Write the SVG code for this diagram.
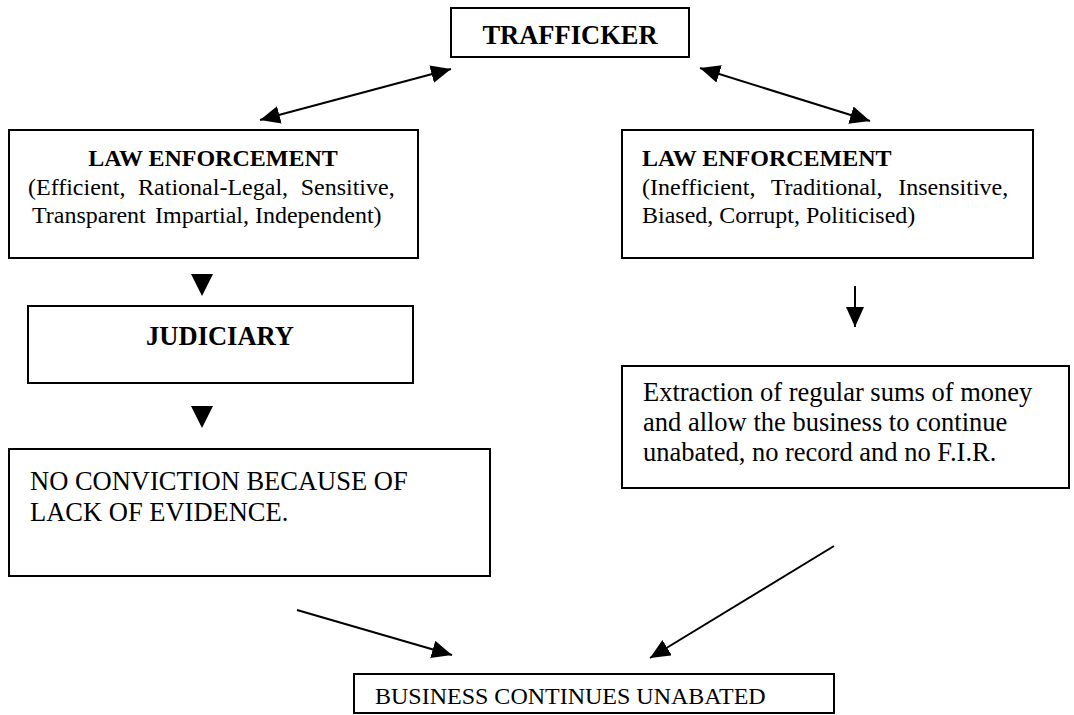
<svg xmlns="http://www.w3.org/2000/svg" width="1074" height="715" viewBox="0 0 1074 715">
<defs>
<style>
.box{fill:#fff;stroke:#000;stroke-width:2}
.t{font-family:"Liberation Serif","Times New Roman",serif;fill:#000}
.b{font-weight:bold}
.s24{font-size:24px}
.s26{font-size:26.5px}
.ln{stroke:#000;stroke-width:2;fill:none}
.tri{fill:#000}
</style>
<marker id="ah" markerUnits="userSpaceOnUse" viewBox="0 0 20 18" markerWidth="20" markerHeight="18" refX="20" refY="9" orient="auto-start-reverse">
<path d="M0,0 L20,9 L0,18 z" fill="#000"/>
</marker>
</defs>
<rect width="1074" height="715" fill="#fff"/>

<g id="trafficker">
<rect class="box" x="451" y="8" width="238" height="49"/>
<text class="t b" x="570" y="44" font-size="26.5" text-anchor="middle">TRAFFICKER</text>
</g>

<g id="law-left">
<rect class="box" x="9" y="130" width="409" height="128"/>
<text class="t b s24" x="213" y="166" text-anchor="middle">LAW ENFORCEMENT</text>
<text class="t s24" x="28" y="195" word-spacing="6.6">(Efficient, Rational-Legal, Sensitive,</text>
<text class="t s24" y="223"><tspan x="32">Transparent</tspan><tspan x="155">Impartial, Independent)</tspan></text>
</g>

<g id="law-right">
<rect class="box" x="622" y="130" width="411" height="128"/>
<text class="t b s24" x="642" y="166">LAW ENFORCEMENT</text>
<text class="t s24" x="642" y="195" word-spacing="9.7">(Inefficient, Traditional, Insensitive,</text>
<text class="t s24" x="642" y="223">Biased, Corrupt, Politicised)</text>
</g>

<g id="judiciary">
<rect class="box" x="28" y="306" width="385" height="77"/>
<text class="t b s26" x="220" y="345" text-anchor="middle">JUDICIARY</text>
</g>

<g id="no-conviction">
<rect class="box" x="9" y="449" width="481" height="127"/>
<text class="t s26" x="30" y="490">NO CONVICTION BECAUSE OF</text>
<text class="t s26" x="30" y="521">LACK OF EVIDENCE.</text>
</g>

<g id="extraction">
<rect class="box" x="622" y="366" width="447" height="122"/>
<text class="t s26" x="643" y="401">Extraction of regular sums of money</text>
<text class="t s26" x="643" y="431">and allow the business to continue</text>
<text class="t s26" x="643" y="461">unabated, no record and no F.I.R.</text>
</g>

<g id="business">
<rect class="box" x="354" y="674" width="480" height="39"/>
<text class="t s24" x="375" y="704">BUSINESS CONTINUES UNABATED</text>
</g>

<g id="connectors">
<line class="ln" x1="260" y1="120" x2="451" y2="69" marker-start="url(#ah)" marker-end="url(#ah)"/>
<line class="ln" x1="700" y1="68" x2="870" y2="121" marker-start="url(#ah)" marker-end="url(#ah)"/>
<polygon class="tri" points="191,274 213,274 202,296"/>
<polygon class="tri" points="191,406 213,406 202,428"/>
<line class="ln" x1="855" y1="286" x2="855" y2="327" marker-end="url(#ah)"/>
<line class="ln" x1="297" y1="610" x2="452" y2="655" marker-end="url(#ah)"/>
<line class="ln" x1="834" y1="546" x2="650" y2="658" marker-end="url(#ah)"/>
</g>
</svg>
